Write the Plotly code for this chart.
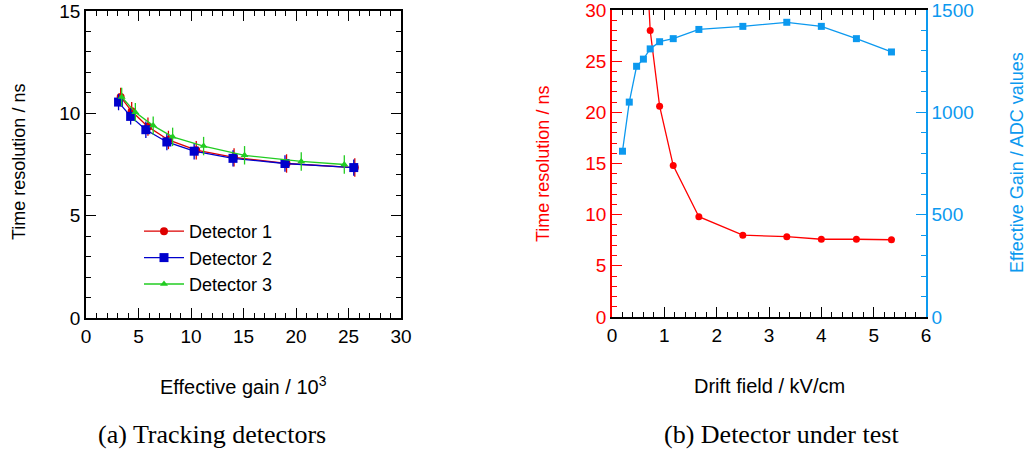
import plotly.graph_objects as go

# ---- Data: (a) tracking detectors ----
gain_d1 = [3.3, 4.35, 5.9, 7.85, 10.5, 14.1, 19.1, 25.6]
res_d1 = [10.8, 10.1, 9.35, 8.7, 8.2, 7.85, 7.55, 7.35]
err_d1 = [0.45, 0.45, 0.45, 0.45, 0.45, 0.45, 0.45, 0.45]
gain_d2 = [3.1, 4.25, 5.7, 7.7, 10.3, 14.0, 18.95, 25.5]
res_d2 = [10.55, 9.85, 9.2, 8.6, 8.15, 7.8, 7.55, 7.35]
err_d2 = [0.4, 0.4, 0.4, 0.4, 0.4, 0.4, 0.4, 0.4]
gain_d3 = [3.4, 4.7, 6.4, 8.25, 11.2, 15.1, 20.5, 24.6]
res_d3 = [10.8, 10.05, 9.4, 8.85, 8.4, 7.95, 7.65, 7.5]
err_d3 = [0.45, 0.45, 0.45, 0.45, 0.45, 0.45, 0.45, 0.45]

# ---- Data: (b) detector under test ----
field_res = [0.6, 0.73, 0.91, 1.17, 1.66, 2.5, 3.34, 4.0, 4.67, 5.34]
time_res = [41, 28.0, 20.6, 14.8, 9.8, 8.0, 7.85, 7.6, 7.6, 7.55]
field_gain = [0.2, 0.33, 0.47, 0.6, 0.73, 0.91, 1.17, 1.66, 2.5, 3.34, 4.0, 4.67, 5.34]
eff_gain = [810, 1050, 1225, 1260, 1310, 1345, 1360, 1405, 1420, 1440, 1420, 1360, 1295]

RED_A = "#dd0000"
BLUE_A = "#0000cc"
GREEN_A = "#22cc22"
RED_B = "#ff0000"
BLUE_B = "#0c99ef"
FONT = "Liberation Sans, Arial, sans-serif"
SERIF = "Liberation Serif, Times New Roman, serif"

W, H = 1031, 454
def px_x(p):
    return p / W
def px_y(p):
    return 1 - p / H

fig = go.Figure()

def det_trace(x, y, e, color, symbol, size, name):
    return go.Scatter(
        x=x, y=y, name=name, mode="lines+markers",
        line=dict(color=color, width=1.3),
        marker=dict(color=color, symbol=symbol, size=size),
        error_y=dict(type="data", array=e, color=color, thickness=1.3, width=0),
        xaxis="x", yaxis="y",
    )

fig.add_trace(det_trace(gain_d1, res_d1, err_d1, RED_A, "circle", 8, "Detector 1"))
fig.add_trace(det_trace(gain_d2, res_d2, err_d2, BLUE_A, "square", 9, "Detector 2"))
fig.add_trace(det_trace(gain_d3, res_d3, err_d3, GREEN_A, "triangle-up", 7, "Detector 3"))

fig.add_trace(go.Scatter(
    x=field_res, y=time_res, mode="lines+markers", showlegend=False,
    line=dict(color=RED_B, width=1.3), marker=dict(color=RED_B, symbol="circle", size=7),
    xaxis="x2", yaxis="y2",
))
fig.add_trace(go.Scatter(
    x=field_gain, y=eff_gain, mode="lines+markers", showlegend=False,
    line=dict(color=BLUE_B, width=1.3), marker=dict(color=BLUE_B, symbol="square", size=7),
    xaxis="x2", yaxis="y3",
))

TICK_SIZE = 19

def axis_common(color="black"):
    return dict(
        showgrid=False, zeroline=False, showline=True, linecolor=color, linewidth=1.5,
        ticks="inside", ticklen=10, tickwidth=1, tickcolor=color, automargin=False,
        ticklabeloverflow="allow",
        tickfont=dict(family=FONT, size=TICK_SIZE, color=color),
    )

xa = axis_common()
xa.update(domain=[px_x(86), px_x(401)], range=[0, 30], dtick=5, tick0=0, anchor="y", mirror="ticks",
          minor=dict(dtick=1, ticks="inside", ticklen=5, tickcolor="black", tickwidth=1))
ya = axis_common()
ya.update(domain=[px_y(318), px_y(11)], range=[0, 15], dtick=5, tick0=0, anchor="x", mirror="ticks",
          minor=dict(dtick=1, ticks="inside", ticklen=5, tickcolor="black", tickwidth=1))

xb = axis_common()
xb.update(domain=[px_x(612), px_x(926)], range=[0, 6], dtick=1, tick0=0, anchor="y2", mirror="ticks",
          minor=dict(dtick=0.2, ticks="inside", ticklen=5, tickcolor="black", tickwidth=1))
yb = axis_common(RED_B)
yb.update(domain=[px_y(317), px_y(10)], range=[0, 30], dtick=5, tick0=0, anchor="x2",
          minor=dict(dtick=1, ticks="inside", ticklen=5, tickcolor=RED_B, tickwidth=1))
yc = axis_common(BLUE_B)
yc.update(range=[0, 1500], dtick=500, tick0=0, anchor="x2", overlaying="y2", side="right",
          minor=dict(dtick=100, ticks="inside", ticklen=5, tickcolor=BLUE_B, tickwidth=1))

fig.update_layout(
    width=W, height=H, margin=dict(l=0, r=0, t=0, b=0, autoexpand=False),
    paper_bgcolor="white", plot_bgcolor="white",
    font=dict(family=FONT, size=18, color="black"),
    xaxis=xa, yaxis=ya, xaxis2=xb, yaxis2=yb, yaxis3=yc,
    showlegend=True,
    legend=dict(x=px_x(139), y=px_y(213), xanchor="left", yanchor="top",
                bgcolor="rgba(0,0,0,0)", font=dict(family=FONT, size=18, color="black"),
                tracegroupgap=0, itemwidth=40),
)

ann = [
    dict(text="Time resolution / ns", x=px_x(19), y=px_y(162), textangle=-90, font=dict(family=FONT, size=18, color="black")),
    dict(text="Effective gain / 10<sup>3</sup>", x=px_x(243), y=px_y(385), font=dict(family=FONT, size=20, color="black")),
    dict(text="(a) Tracking detectors", x=px_x(212), y=px_y(434), font=dict(family=SERIF, size=26, color="black")),
    dict(text="Time resolution / ns", x=px_x(543), y=px_y(164), textangle=-90, font=dict(family=FONT, size=18, color=RED_B)),
    dict(text="Effective Gain / ADC values", x=px_x(1017), y=px_y(163), textangle=-90, font=dict(family=FONT, size=18, color=BLUE_B)),
    dict(text="Drift field / kV/cm", x=px_x(769), y=px_y(386), font=dict(family=FONT, size=20, color="black")),
    dict(text="(b) Detector under test", x=px_x(781), y=px_y(434), font=dict(family=SERIF, size=26, color="black")),
]
for a in ann:
    a.update(xref="paper", yref="paper", showarrow=False, xanchor="center", yanchor="middle")
fig.update_layout(annotations=ann)

fig.write_html("out.html")
